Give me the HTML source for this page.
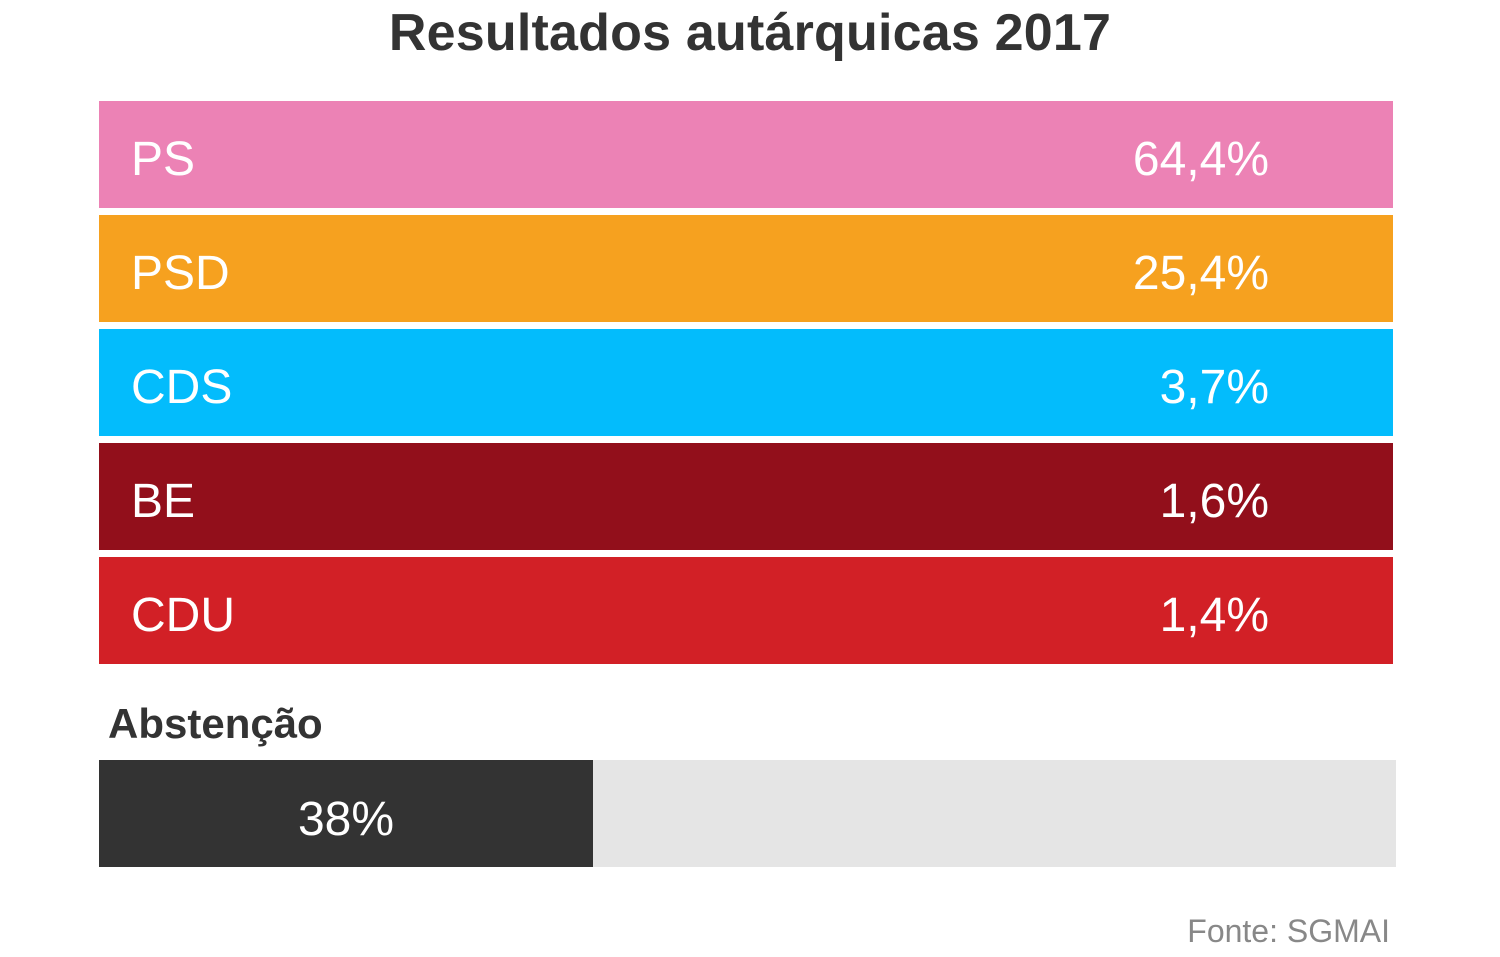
<!DOCTYPE html>
<html><head><meta charset="utf-8"><style>
body{margin:0;width:1500px;height:957px;background:#fff;font-family:"Liberation Sans",sans-serif;position:relative;overflow:hidden}
.t{position:absolute;left:0;width:1500px;top:3px;text-align:center;font-size:52px;font-weight:bold;color:#333;letter-spacing:0.2px}
.bar{position:absolute;left:99px;width:1294px;height:107px;color:#fff;font-size:48px}
.bar .l{position:absolute;left:32px;top:31px}
.bar .r{position:absolute;right:124px;top:31px}
</style></head><body>
<div class="t">Resultados autárquicas 2017</div>
<div class="bar" style="top:101px;background:#ec82b5"><span class="l">PS</span><span class="r">64,4%</span></div>
<div class="bar" style="top:215px;background:#f6a11f"><span class="l">PSD</span><span class="r">25,4%</span></div>
<div class="bar" style="top:329px;background:#03bcfc"><span class="l">CDS</span><span class="r">3,7%</span></div>
<div class="bar" style="top:443px;background:#920f1b"><span class="l">BE</span><span class="r">1,6%</span></div>
<div class="bar" style="top:557px;background:#d22026"><span class="l">CDU</span><span class="r">1,4%</span></div>
<div style="position:absolute;left:108px;top:700px;font-size:42px;font-weight:bold;color:#333">Abstenção</div>
<div style="position:absolute;left:99px;top:760px;width:1297px;height:107px;background:#e5e5e5"></div>
<div style="position:absolute;left:99px;top:760px;width:494px;height:107px;background:#333;color:#fff;font-size:48px;text-align:center;line-height:120px">38%</div>
<div style="position:absolute;right:110px;top:913px;font-size:32px;color:#888">Fonte: SGMAI</div>
</body></html>
